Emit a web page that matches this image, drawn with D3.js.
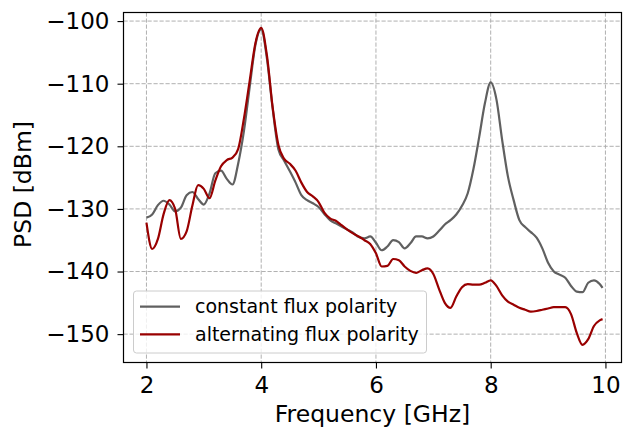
<!DOCTYPE html>
<html><head><meta charset="utf-8">
<script src="https://cdn.jsdelivr.net/npm/d3@7"></script>
<style>body{margin:0;background:#fff}svg{display:block}text{font-family:"DejaVu Sans",sans-serif}</style>
</head><body><svg id="c" width="623" height="436"></svg>
<script>
const freq = [2.0,2.1,2.2,2.3,2.4,2.5,2.6,2.7,2.8,2.9,3.0,3.1,3.2,3.3,3.4,3.5,3.6,3.7,3.8,3.9,
4.0,4.1,4.2,4.3,4.4,4.5,4.6,4.7,4.8,4.9,5.0,5.1,5.2,5.3,5.4,5.5,5.6,5.7,5.8,5.9,
6.0,6.1,6.2,6.3,6.4,6.5,6.6,6.7,6.8,6.9,7.0,7.1,7.2,7.3,7.4,7.5,7.6,7.7,7.8,7.9,
8.0,8.1,8.2,8.3,8.4,8.5,8.6,8.7,8.8,8.9,9.0,9.1,9.2,9.3,9.4,9.5,9.6,9.7,9.8,9.9,9.95];
const constantFlux = [-131.4,-130.9,-129.4,-128.7,-129.3,-130.4,-129.8,-127.8,-127.3,-128.4,-129.3,-127.5,-124.3,-123.9,-125.2,-126.1,-122.7,-117.5,-110.5,-103.8,
-101.3,-106.0,-114.0,-120.5,-122.3,-124.0,-125.8,-127.8,-128.6,-129.1,-129.7,-130.8,-131.8,-132.3,-132.8,-133.3,-133.8,-134.5,-134.7,-134.4,
-135.4,-136.6,-136.0,-135.0,-135.3,-136.3,-135.5,-134.4,-134.4,-134.7,-134.4,-133.5,-132.5,-131.8,-130.9,-129.5,-127.5,-123.6,-118.5,-113.1,
-109.8,-112.5,-119.0,-124.8,-128.6,-131.8,-132.9,-133.7,-134.6,-136.3,-138.6,-140.0,-140.5,-141.0,-142.3,-143.2,-143.3,-141.8,-141.4,-142.0,-142.6];
const alternatingFlux = [-132.2,-136.4,-134.8,-130.8,-128.6,-130.0,-134.8,-133.6,-129.5,-126.2,-126.8,-128.3,-125.5,-123.2,-122.2,-121.8,-120.4,-115.5,-109.5,-103.5,
-101.1,-105.5,-113.8,-119.8,-122.0,-122.8,-123.9,-125.8,-127.3,-128.0,-128.9,-130.6,-131.5,-131.9,-132.6,-133.3,-133.9,-134.4,-135.0,-135.6,
-137.1,-139.2,-139.1,-138.0,-138.2,-139.2,-139.9,-140.2,-139.8,-139.5,-140.4,-142.8,-145.0,-145.8,-144.0,-142.5,-142.0,-142.1,-142.1,-141.8,
-141.4,-142.3,-143.8,-144.8,-145.3,-145.8,-146.1,-146.4,-146.3,-146.1,-145.9,-145.7,-145.7,-145.7,-146.8,-149.8,-151.7,-150.8,-148.7,-147.8,-147.6];
const xTicks = [2,4,6,8,10];
const yTicks = [-100,-110,-120,-130,-140,-150];
const seriesNames = ["constant flux polarity","alternating flux polarity"];
const seriesColors = ["#606060","#990000"];

const svg = d3.select("#c");
const L=123.5, R=621.5, T=12.5, B=362.5;
const x = d3.scaleLinear().domain([1.6,10.28]).range([L,R]);
const y = d3.scaleLinear().domain([-154.53,-98.63]).range([B,T]);
const fmt = v => String(v).replace("-","\u2212");

// grid
const g = svg.append("g");
g.selectAll(".gx").data(xTicks).join("line")
  .attr("x1",d=>x(d)).attr("x2",d=>x(d)).attr("y1",T).attr("y2",B)
  .attr("stroke","#b0b0b0").attr("stroke-width",1).attr("stroke-dasharray","4.2,1.8");
g.selectAll(".gy").data(yTicks).join("line")
  .attr("y1",d=>y(d)).attr("y2",d=>y(d)).attr("x1",L).attr("x2",R)
  .attr("stroke","#b0b0b0").attr("stroke-width",1).attr("stroke-dasharray","4.2,1.8");

// lines
const line = vals => d3.line().x((d,i)=>x(freq[i])).y(d=>y(d)).curve(d3.curveMonotoneX)(vals);
[constantFlux, alternatingFlux].forEach((vals,k)=>{
  svg.append("path").attr("d",line(vals)).attr("fill","none")
    .attr("stroke",seriesColors[k]).attr("stroke-width",2.2).attr("stroke-linejoin","round");
});

// axes
const xa = svg.append("g").attr("transform",`translate(0,${B})`)
  .call(d3.axisBottom(x).tickValues(xTicks).tickSize(6).tickPadding(8).tickFormat(fmt));
const ya = svg.append("g").attr("transform",`translate(${L},0)`)
  .call(d3.axisLeft(y).tickValues(yTicks).tickSize(6).tickPadding(8).tickFormat(fmt));
[xa,ya].forEach(a=>{
  a.select(".domain").remove();
  a.selectAll("line").attr("stroke","#000").attr("stroke-width",1.1);
  a.selectAll("text").attr("font-size","23px").attr("fill","#000").attr("font-family","DejaVu Sans");
});
svg.append("rect").attr("x",L).attr("y",T).attr("width",R-L).attr("height",B-T)
  .attr("fill","none").attr("stroke","#000").attr("stroke-width",1.2);

svg.append("text").attr("x",(L+R)/2).attr("y",422).attr("text-anchor","middle")
  .attr("font-size","23.5px").text("Frequency [GHz]");
svg.append("text").attr("transform",`translate(30.5,${(T+B)/2 - 3}) rotate(-90)`).attr("text-anchor","middle")
  .attr("font-size","23.5px").text("PSD [dBm]");

// legend
const lg = svg.append("g");
lg.append("rect").attr("x",133.5).attr("y",291).attr("width",293).attr("height",62).attr("rx",3)
  .attr("fill","#fff").attr("fill-opacity",0.8).attr("stroke","#cccccc").attr("stroke-width",1);
seriesNames.forEach((n,k)=>{
  const yy = 306.7 + k*27.6;
  lg.append("line").attr("x1",140).attr("x2",180).attr("y1",yy).attr("y2",yy)
    .attr("stroke",seriesColors[k]).attr("stroke-width",2.2);
  lg.append("text").attr("x",195).attr("y",yy+6.5).attr("font-size","19px").text(n);
});
</script></body></html>
